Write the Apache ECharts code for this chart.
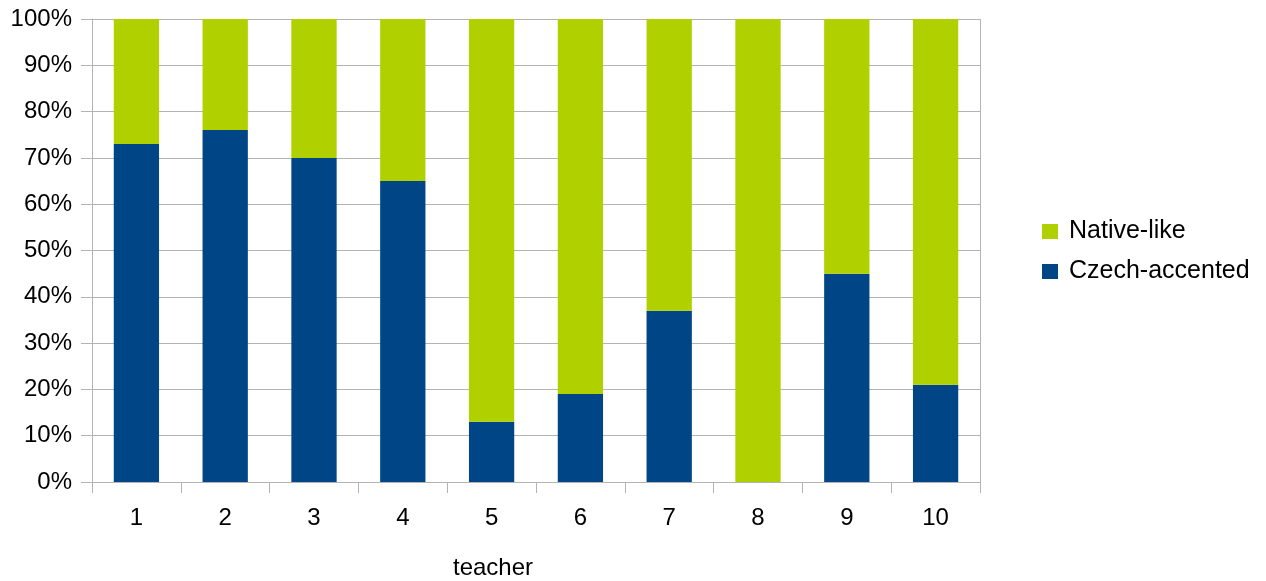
<!DOCTYPE html>
<html>
<head>
<meta charset="utf-8">
<script src="https://cdn.jsdelivr.net/npm/echarts@6/dist/echarts.min.js"></script>
<style>
  html, body { margin: 0; padding: 0; background: #fff; }
  #chart { width: 1266px; height: 581px; }
</style>
</head>
<body>
<div id="chart"></div>
<script>
// Share of listeners per teacher, in percent
const teachers = ['1', '2', '3', '4', '5', '6', '7', '8', '9', '10'];
const czechAccented = [73, 76, 70, 65, 13, 19, 37, 0, 45, 21];
const nativeLike = [27, 24, 30, 35, 87, 81, 63, 100, 55, 79];
const yTicks = [0, 10, 20, 30, 40, 50, 60, 70, 80, 90, 100];

const font = '"Liberation Sans", Arial, sans-serif';
const gridColor = '#b3b3b3';

const chart = echarts.init(document.getElementById('chart'));
chart.setOption({
  animation: false,
  backgroundColor: '#ffffff',
  grid: { left: 92, top: 19, right: 286, bottom: 99, containLabel: false },
  legend: {
    orient: 'vertical',
    left: 1042,
    top: 219,
    padding: 0,
    itemWidth: 16,
    itemHeight: 15,
    itemGap: 15,
    icon: 'rect',
    data: ['Native-like', 'Czech-accented'],
    textStyle: { fontFamily: font, fontSize: 25, color: '#000', padding: [0, 0, 0, 6] }
  },
  xAxis: {
    type: 'category',
    data: teachers,
    axisLine: { lineStyle: { color: gridColor, width: 1 } },
    axisTick: { show: true, length: 11, lineStyle: { color: gridColor } },
    axisLabel: { fontFamily: font, fontSize: 24, color: '#000', margin: 24 },
    splitLine: { show: false }
  },
  yAxis: {
    type: 'value',
    min: yTicks[0],
    max: yTicks[yTicks.length - 1],
    interval: 10,
    axisLine: { show: true, lineStyle: { color: gridColor, width: 1 } },
    axisTick: { show: true, length: 11, lineStyle: { color: gridColor } },
    axisLabel: { fontFamily: font, fontSize: 24, color: '#000', margin: 20, formatter: '{value}%' },
    splitLine: { show: true, lineStyle: { color: gridColor, width: 1 } }
  },
  graphic: [{
    type: 'line',
    shape: { x1: 980.5, y1: 19, x2: 980.5, y2: 493 },
    style: { stroke: gridColor, lineWidth: 1 },
    z: 1
  }, {
    type: 'text',
    left: 453,
    top: 556,
    style: { text: 'teacher', fontFamily: font, fontSize: 24, fill: '#000' }
  }],
  series: [{
    name: 'Czech-accented',
    type: 'bar',
    stack: 'total',
    barWidth: '51%',
    itemStyle: { color: '#004586' },
    data: czechAccented
  }, {
    name: 'Native-like',
    type: 'bar',
    stack: 'total',
    barWidth: '51%',
    itemStyle: { color: '#b0d000' },
    data: nativeLike
  }]
});
</script>
</body>
</html>
